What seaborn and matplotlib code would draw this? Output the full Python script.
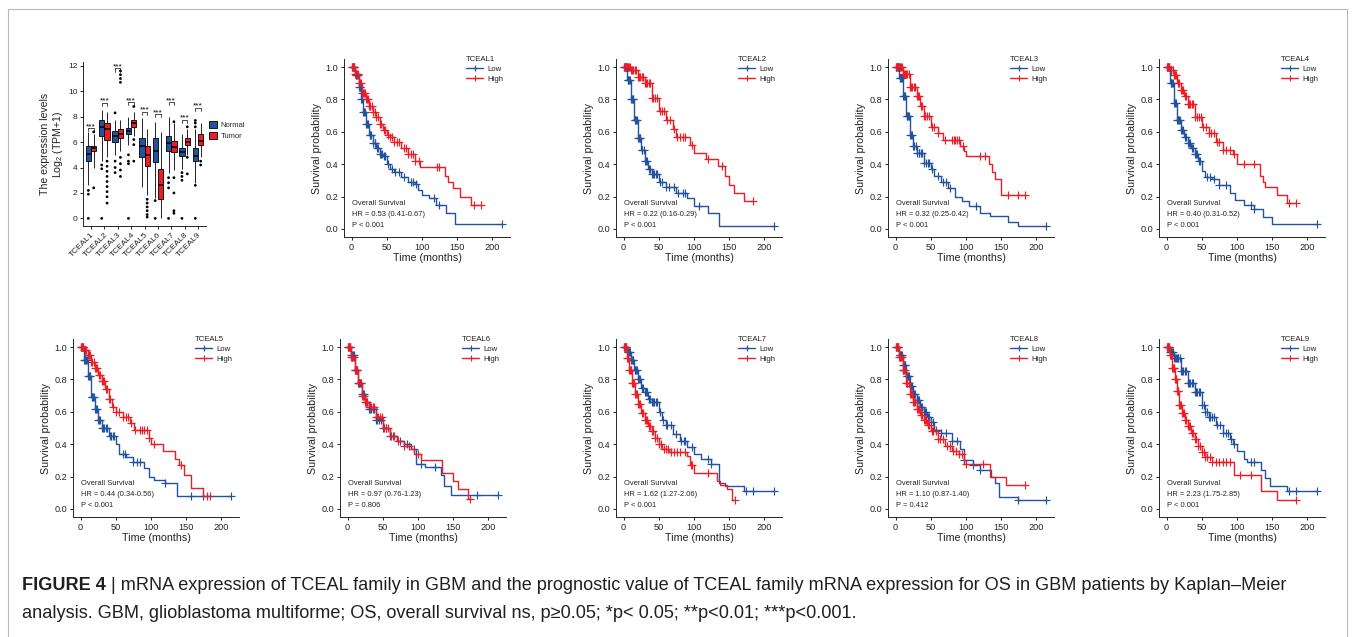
import numpy as np
import pandas as pd
import matplotlib
matplotlib.use("Agg")
import matplotlib.pyplot as plt
import seaborn as sns
from matplotlib.lines import Line2D
from matplotlib.patches import Patch
from matplotlib import font_manager

# ---------------- DATA ----------------
genes = ["TCEAL1", "TCEAL2", "TCEAL3", "TCEAL4", "TCEAL5", "TCEAL6", "TCEAL7", "TCEAL8", "TCEAL9"]
groups = ["Normal", "Tumor"]
# five-number summaries [low whisker, q1, median, q3, high whisker]
normal_stats = [[2.6, 4.5, 5.1, 5.7, 6.8], [4.5, 6.5, 7.2, 7.7, 8.5], [5.0, 6.0, 6.5, 6.9, 7.7],
                [5.8, 6.6, 6.9, 7.1, 8.0], [2.5, 4.8, 5.7, 6.3, 7.9], [1.6, 4.4, 5.3, 6.3, 7.6],
                [3.6, 5.3, 5.9, 6.5, 8.0], [3.9, 4.9, 5.2, 5.5, 6.6], [2.8, 4.5, 4.9, 5.5, 7.0]]
tumor_stats = [[4.0, 5.3, 5.5, 5.7, 6.6], [4.8, 6.2, 7.0, 7.5, 8.4], [5.3, 6.3, 6.6, 7.0, 7.7],
               [6.5, 7.2, 7.5, 7.7, 8.4], [1.8, 4.1, 5.0, 5.7, 7.0], [0.0, 1.5, 2.6, 3.9, 6.8],
               [3.8, 5.2, 5.6, 6.1, 7.5], [5.0, 5.8, 6.0, 6.3, 7.0], [4.8, 5.8, 6.1, 6.6, 7.5]]
normal_outliers = [[2.2, 1.9, 0.0], [4.2, 3.9, 0.0], [8.3, 4.5, 4.0, 3.6], [5.0, 4.5, 4.3, 0.0],
                   [], [1.4, 0.0], [3.2, 2.8, 2.4, 0.0], [3.6, 3.3, 3.0, 0.0], [2.6, 7.2, 7.5, 7.7, 0.0]]
tumor_outliers = [[2.4, 6.8], [4.5, 4.1, 3.7, 3.3, 2.9, 2.5, 2.1, 1.7, 1.2], [4.8, 4.3, 3.8, 3.3, 10.7, 11.0, 11.3, 11.6],
                  [6.2, 5.8, 4.5, 8.8], [1.5, 1.2, 0.9, 0.6, 0.3, 0.1], [], [3.2, 2.0, 0.6, 0.4, 7.6],
                  [3.5, 4.8, 7.2], [4.5, 4.2]]
sig_labels = ["***"] * 9
sig_heights = [7.1, 9.1, 11.8, 9.15, 8.4, 8.2, 9.15, 7.75, 8.7]

# Kaplan-Meier step curves (time, survival after that time) and censor times
tceal1_low_t = [0, 5, 10, 13, 16, 20, 25, 30, 35, 40, 45, 50, 55, 60, 70, 80, 90, 95, 100, 110, 120, 135, 147, 215]
tceal1_low_s = [1.0, 0.95, 0.88, 0.80, 0.72, 0.65, 0.58, 0.53, 0.50, 0.46, 0.45, 0.40, 0.37, 0.35, 0.32, 0.29, 0.28, 0.24, 0.21, 0.19, 0.15, 0.10, 0.03, 0.03]
tceal1_low_c = [1, 2, 3, 4, 6, 7, 8, 9, 11, 12, 12.5, 14, 15, 17, 18, 19, 21, 22, 24, 26, 27, 28, 31, 33, 34, 36, 38, 40, 42, 44, 46, 48, 52, 58, 62, 68, 75, 85, 88, 92, 118, 125, 215]
tceal1_high_t = [0, 5, 10, 15, 20, 25, 30, 35, 40, 45, 50, 55, 60, 70, 80, 90, 98, 133, 138, 145, 155, 170, 185]
tceal1_high_s = [1.0, 0.96, 0.90, 0.84, 0.80, 0.76, 0.72, 0.69, 0.65, 0.61, 0.58, 0.565, 0.54, 0.50, 0.46, 0.42, 0.38, 0.33, 0.29, 0.25, 0.20, 0.15, 0.15]
tceal1_high_c = [1, 2, 3, 4, 5.5, 6, 7, 8, 9, 11, 12, 13, 15, 16, 18, 19, 21, 22, 24, 25, 27, 29, 31, 33, 35, 38, 40, 42, 46, 48, 52, 55, 58, 60, 65, 68, 75, 78, 80, 85, 88, 90, 96, 122, 125, 175, 185]

tceal2_low_t = [0, 5, 10, 15, 20, 25, 30, 35, 40, 50, 60, 75, 90, 100, 120, 136, 215]
tceal2_low_s = [1.0, 0.92, 0.80, 0.67, 0.56, 0.49, 0.42, 0.37, 0.34, 0.29, 0.26, 0.22, 0.19, 0.14, 0.10, 0.02, 0.02]
tceal2_low_c = [1, 2, 3, 4, 6, 7, 8, 9, 11, 12, 13, 14, 16, 17, 18, 19, 21, 22, 23, 24, 26, 27, 29, 30, 32, 34, 36, 38, 40, 42, 44, 46, 48, 52, 55, 60, 65, 72, 78, 85, 88, 108, 215]
tceal2_high_t = [0, 10, 20, 30, 40, 50, 60, 70, 75, 95, 100, 118, 135, 145, 150, 158, 172, 185]
tceal2_high_s = [1.0, 0.98, 0.94, 0.90, 0.81, 0.73, 0.67, 0.62, 0.57, 0.52, 0.47, 0.435, 0.39, 0.33, 0.27, 0.22, 0.17, 0.17]
tceal2_high_c = [1, 2, 3, 4, 5, 6, 7, 8, 9, 11, 12, 14, 16, 18, 20, 22, 24, 26, 28, 30, 32, 34, 36, 38, 40, 42, 45, 48, 52, 55, 58, 62, 66, 72, 76, 80, 84, 88, 98, 120, 140, 185]

tceal3_low_t = [0, 5, 10, 15, 20, 25, 30, 40, 50, 55, 65, 75, 85, 95, 105, 120, 135, 160, 174, 215]
tceal3_low_s = [1.0, 0.93, 0.82, 0.70, 0.58, 0.51, 0.47, 0.41, 0.37, 0.33, 0.29, 0.25, 0.20, 0.17, 0.14, 0.10, 0.08, 0.045, 0.015, 0.015]
tceal3_low_c = [1, 2, 3, 4, 6, 7, 8, 9, 11, 12, 13, 14, 16, 17, 18, 19, 21, 22, 23, 25, 27, 29, 31, 33, 34, 36, 38, 41, 44, 46, 48, 52, 60, 68, 72, 78, 115, 215]
tceal3_high_t = [0, 10, 20, 30, 35, 40, 50, 60, 68, 92, 97, 101, 133, 138, 142, 150, 185]
tceal3_high_s = [1.0, 0.96, 0.88, 0.82, 0.76, 0.70, 0.63, 0.59, 0.55, 0.51, 0.48, 0.45, 0.40, 0.35, 0.31, 0.21, 0.21]
tceal3_high_c = [1, 2, 3, 4, 5, 6, 7, 8, 9, 11, 12, 14, 15, 17, 19, 21, 22, 24, 26, 28, 30, 32, 34, 36, 38, 40, 42, 45, 48, 52, 55, 60, 70, 80, 83, 85, 88, 91, 96, 120, 127, 160, 175, 185]

tceal4_low_t = [0, 5, 10, 15, 20, 25, 30, 35, 40, 45, 50, 55, 65, 75, 90, 98, 110, 125, 138, 150, 215]
tceal4_low_s = [1.0, 0.90, 0.78, 0.67, 0.61, 0.57, 0.53, 0.50, 0.46, 0.42, 0.36, 0.32, 0.31, 0.27, 0.22, 0.18, 0.15, 0.12, 0.075, 0.03, 0.03]
tceal4_low_c = [1, 2, 3, 4, 6, 7, 8, 9, 11, 12, 13, 15, 16, 18, 19, 21, 22, 24, 26, 28, 30, 32, 34, 36, 38, 40, 42, 44, 46, 48, 58, 62, 68, 75, 85, 120, 125, 215]
tceal4_high_t = [0, 5, 10, 15, 20, 25, 30, 40, 50, 60, 70, 80, 95, 100, 133, 137, 140, 157, 172, 185]
tceal4_high_s = [1.0, 0.98, 0.95, 0.90, 0.86, 0.82, 0.77, 0.69, 0.63, 0.59, 0.54, 0.49, 0.46, 0.40, 0.33, 0.29, 0.26, 0.21, 0.16, 0.16]
tceal4_high_c = [1, 2, 3, 4, 5, 6, 7, 9, 11, 12, 14, 16, 18, 20, 22, 24, 26, 28, 30, 32, 34, 36, 38, 40, 43, 46, 49, 52, 56, 60, 64, 68, 72, 75, 80, 85, 90, 96, 110, 125, 175, 185]

tceal5_low_t = [0, 5, 10, 15, 20, 25, 30, 40, 50, 55, 65, 75, 90, 97, 105, 120, 137, 215]
tceal5_low_s = [1.0, 0.92, 0.82, 0.69, 0.62, 0.55, 0.50, 0.45, 0.40, 0.34, 0.32, 0.29, 0.25, 0.20, 0.18, 0.16, 0.08, 0.08]
tceal5_low_c = [1, 2, 3, 5, 6, 7, 8, 9, 11, 12, 13, 14, 16, 17, 18, 19, 21, 22, 23, 25, 27, 28, 30, 32, 34, 36, 38, 42, 44, 46, 48, 60, 64, 75, 80, 84, 120, 158, 175, 215]
tceal5_high_t = [0, 5, 10, 15, 20, 25, 30, 35, 40, 45, 50, 60, 70, 76, 97, 100, 117, 135, 140, 148, 158, 175, 185]
tceal5_high_s = [1.0, 0.98, 0.95, 0.91, 0.87, 0.83, 0.79, 0.74, 0.68, 0.63, 0.60, 0.57, 0.53, 0.49, 0.44, 0.40, 0.36, 0.31, 0.27, 0.21, 0.13, 0.08, 0.08]
tceal5_high_c = [1, 2, 3, 4, 5, 6, 7, 8, 10, 12, 14, 15, 17, 19, 21, 22, 24, 26, 28, 30, 32, 34, 36, 38, 40, 42, 46, 50, 55, 60, 65, 68, 72, 78, 84, 88, 91, 94, 97, 104, 143, 180, 185]

tceal6_low_t = [0, 5, 10, 15, 20, 25, 30, 40, 50, 60, 70, 80, 90, 97, 110, 133, 138, 147, 215]
tceal6_low_s = [1.0, 0.95, 0.86, 0.78, 0.71, 0.66, 0.62, 0.55, 0.50, 0.45, 0.42, 0.40, 0.37, 0.28, 0.26, 0.21, 0.14, 0.085, 0.085]
tceal6_low_c = [1, 2, 3, 4, 5, 6, 8, 9, 10, 12, 13, 15, 16, 18, 19, 21, 22, 24, 26, 28, 30, 32, 34, 36, 38, 40, 42, 45, 48, 50, 55, 60, 65, 75, 85, 95, 105, 125, 185, 215]
tceal6_high_t = [0, 5, 10, 15, 20, 25, 30, 40, 50, 60, 70, 80, 90, 95, 105, 135, 150, 158, 172, 176]
tceal6_high_s = [1.0, 0.94, 0.86, 0.78, 0.70, 0.66, 0.63, 0.57, 0.50, 0.45, 0.42, 0.39, 0.37, 0.34, 0.30, 0.22, 0.17, 0.12, 0.06, 0.06]
tceal6_high_c = [1, 2, 3, 4, 5, 6, 7, 8, 9, 11, 12, 13, 14, 16, 17, 19, 20, 22, 23, 25, 26, 28, 30, 32, 34, 36, 38, 40, 42, 44, 46, 49, 52, 55, 58, 62, 66, 72, 80, 88, 100, 175]

tceal7_low_t = [0, 5, 10, 15, 20, 25, 30, 35, 40, 50, 55, 60, 70, 80, 90, 100, 110, 125, 136, 145, 172, 215]
tceal7_low_s = [1.0, 0.97, 0.92, 0.86, 0.80, 0.75, 0.72, 0.68, 0.66, 0.60, 0.55, 0.52, 0.46, 0.42, 0.38, 0.34, 0.31, 0.28, 0.16, 0.14, 0.11, 0.11]
tceal7_low_c = [1, 2, 3, 4, 6, 7, 8, 9, 11, 12, 13, 14, 16, 17, 18, 19, 21, 22, 24, 26, 28, 30, 32, 34, 36, 38, 40, 42, 44, 46, 48, 52, 56, 60, 62, 68, 75, 82, 86, 88, 98, 120, 125, 175, 185, 215]
tceal7_high_t = [0, 5, 8, 12, 16, 20, 25, 30, 35, 40, 45, 50, 55, 65, 90, 95, 100, 133, 138, 148, 155, 159]
tceal7_high_s = [1.0, 0.93, 0.86, 0.78, 0.71, 0.65, 0.59, 0.55, 0.51, 0.48, 0.44, 0.40, 0.37, 0.35, 0.33, 0.27, 0.22, 0.17, 0.15, 0.12, 0.055, 0.055]
tceal7_high_c = [1, 2, 3, 4, 5, 6, 7, 8, 9, 10, 11, 12, 13, 14, 15, 17, 18, 19, 20, 22, 24, 26, 28, 30, 32, 34, 36, 38, 40, 42, 45, 48, 51, 54, 58, 61, 64, 68, 72, 76, 80, 88, 96, 98, 120, 159]

tceal8_low_t = [0, 5, 10, 15, 20, 25, 30, 35, 40, 45, 50, 55, 65, 80, 92, 98, 110, 120, 136, 142, 148, 175, 215]
tceal8_low_s = [1.0, 0.95, 0.89, 0.82, 0.76, 0.71, 0.67, 0.63, 0.60, 0.57, 0.54, 0.49, 0.47, 0.42, 0.37, 0.30, 0.27, 0.24, 0.20, 0.16, 0.075, 0.055, 0.055]
tceal8_low_c = [1, 2, 3, 4, 6, 7, 8, 9, 11, 12, 13, 14, 16, 17, 18, 19, 21, 22, 24, 26, 28, 30, 32, 34, 36, 38, 40, 42, 44, 46, 48, 50, 54, 58, 65, 72, 80, 88, 98, 110, 120, 175, 215]
tceal8_high_t = [0, 5, 10, 15, 20, 25, 30, 35, 40, 45, 50, 60, 70, 80, 90, 98, 135, 157, 185]
tceal8_high_s = [1.0, 0.94, 0.86, 0.78, 0.71, 0.66, 0.62, 0.58, 0.55, 0.52, 0.48, 0.43, 0.39, 0.36, 0.34, 0.28, 0.20, 0.15, 0.15]
tceal8_high_c = [1, 2, 3, 4, 5, 6, 7, 8, 9, 10, 11, 12, 13, 15, 16, 17, 19, 20, 22, 23, 25, 27, 28, 30, 32, 34, 36, 38, 40, 42, 44, 46, 48, 52, 54, 58, 60, 64, 68, 74, 78, 82, 86, 90, 95, 100, 125, 185]

tceal9_low_t = [0, 5, 10, 20, 30, 40, 50, 55, 60, 70, 80, 90, 95, 100, 110, 115, 135, 140, 147, 172, 215]
tceal9_low_s = [1.0, 0.97, 0.93, 0.85, 0.78, 0.72, 0.64, 0.60, 0.57, 0.52, 0.47, 0.43, 0.40, 0.36, 0.31, 0.29, 0.24, 0.19, 0.14, 0.11, 0.11]
tceal9_low_c = [1, 2, 3, 5, 6, 7, 8, 9, 11, 12, 13, 15, 16, 17, 19, 20, 22, 24, 26, 28, 30, 32, 34, 36, 38, 40, 42, 44, 46, 48, 50, 53, 55, 58, 60, 62, 65, 68, 72, 76, 80, 84, 88, 92, 96, 120, 125, 175, 185, 215]
tceal9_high_t = [0, 5, 8, 12, 15, 18, 22, 26, 30, 35, 40, 45, 50, 55, 65, 96, 135, 157, 185]
tceal9_high_s = [1.0, 0.95, 0.87, 0.80, 0.73, 0.64, 0.59, 0.55, 0.51, 0.47, 0.43, 0.39, 0.35, 0.32, 0.29, 0.21, 0.11, 0.055, 0.055]
tceal9_high_c = [1, 2, 3, 4, 5, 6, 7, 8, 9, 10, 11, 12, 13, 14, 15, 16, 17, 18, 19, 20, 22, 23, 25, 26, 28, 30, 32, 34, 36, 38, 40, 42, 45, 48, 50, 53, 55, 58, 62, 65, 70, 75, 80, 85, 90, 105, 120, 185]

hr_texts = ["HR = 0.53 (0.41-0.67)", "HR = 0.22 (0.16-0.29)", "HR = 0.32 (0.25-0.42)",
            "HR = 0.40 (0.31-0.52)", "HR = 0.44 (0.34-0.56)", "HR = 0.97 (0.76-1.23)",
            "HR = 1.62 (1.27-2.06)", "HR = 1.10 (0.87-1.40)", "HR = 2.23 (1.75-2.85)"]
p_texts = ["P < 0.001", "P < 0.001", "P < 0.001", "P < 0.001", "P < 0.001",
           "P = 0.806", "P < 0.001", "P = 0.412", "P < 0.001"]

caption_bold = "FIGURE 4"
caption_line1 = " | mRNA expression of TCEAL family in GBM and the prognostic value of TCEAL family mRNA expression for OS in GBM patients by Kaplan\u2013Meier"
caption_line2 = "analysis. GBM, glioblastoma multiforme; OS, overall survival ns, p\u22650.05; *p< 0.05; **p<0.01; ***p<0.001."

# ---------------- STYLE ----------------
sns.set_theme(style="ticks")
plt.rcParams["font.family"] = ["Liberation Sans", "DejaVu Sans"]
plt.rcParams["axes.linewidth"] = 0.7
plt.rcParams["xtick.major.width"] = 0.7
plt.rcParams["ytick.major.width"] = 0.7
plt.rcParams["xtick.major.size"] = 2.5
plt.rcParams["ytick.major.size"] = 2.5
plt.rcParams["mathtext.fontset"] = "custom"
plt.rcParams["mathtext.rm"] = "Liberation Sans"
plt.rcParams["mathtext.it"] = "Liberation Sans:italic"

BLUE = "#23539F"
RED = "#EE1C24"
TXT = "#222222"
W, H = 1355, 637
fig = plt.figure(figsize=(W / 100, H / 100), dpi=100)
fig.patch.set_facecolor("white")


def px_axes(left, top, right, bottom):
    return fig.add_axes([left / W, 1 - bottom / H, (right - left) / W, (bottom - top) / H])


# ---------------- BOX PLOT ----------------
rows = []
for g, ns, ts in zip(genes, normal_stats, tumor_stats):
    for v in ns:
        rows.append((g, "Normal", v))
    for v in ts:
        rows.append((g, "Tumor", v))
box_df = pd.DataFrame(rows, columns=["gene", "group", "value"])
orows = []
for g, no, to in zip(genes, normal_outliers, tumor_outliers):
    for v in no:
        orows.append((g, "Normal", v))
    for v in to:
        orows.append((g, "Tumor", v))
out_df = pd.DataFrame(orows, columns=["gene", "group", "value"])

axb = px_axes(83, 62, 206, 226)
sns.boxplot(data=box_df, x="gene", y="value", hue="group", order=genes, hue_order=groups,
            palette={"Normal": BLUE, "Tumor": RED}, saturation=1, whis=(0, 100), width=0.8,
            linewidth=0.6, linecolor="black", showcaps=False,
            medianprops=dict(color="black", linewidth=1.1), legend=False, ax=axb)
sns.stripplot(data=out_df, x="gene", y="value", hue="group", order=genes, hue_order=groups,
              dodge=True, jitter=False, palette={"Normal": "black", "Tumor": "black"},
              size=2.0, legend=False, ax=axb)
for i, (h, lab) in enumerate(zip(sig_heights, sig_labels)):
    axb.plot([i - 0.2, i - 0.2, i + 0.2, i + 0.2], [h - 0.25, h, h, h - 0.25], color="black", lw=0.5)
    axb.text(i, h - 0.15, lab, ha="center", va="bottom", fontsize=6, color="black")
axb.set_xlim(-0.6, 8.6)
axb.set_ylim(-0.6, 12.3)
axb.set_yticks([0, 2, 4, 6, 8, 10, 12])
axb.tick_params(axis="y", labelsize=6, pad=1.5, colors=TXT)
axb.tick_params(axis="x", labelsize=6, pad=1, colors=TXT)
axb.set_xticks(range(len(genes)))
axb.set_xticklabels(genes, rotation=45, ha="right", rotation_mode="anchor")
axb.set_xlabel("")
axb.set_ylabel("The expression levels\nLog$_2$ (TPM+1)", fontsize=7.6, labelpad=2, linespacing=1.1, color=TXT)
sns.despine(ax=axb)
leg_handles = [Patch(facecolor=BLUE, edgecolor="black", linewidth=0.6),
               Patch(facecolor=RED, edgecolor="black", linewidth=0.6)]
axb.legend(leg_handles, groups, loc="center left", bbox_to_anchor=(0.97, 0.58), frameon=False,
           fontsize=5.5, handlelength=1.0, handleheight=1.0, handletextpad=0.5, labelspacing=0.4)

# ---------------- KM PANELS ----------------
km_low = [(tceal1_low_t, tceal1_low_s, tceal1_low_c), (tceal2_low_t, tceal2_low_s, tceal2_low_c),
          (tceal3_low_t, tceal3_low_s, tceal3_low_c), (tceal4_low_t, tceal4_low_s, tceal4_low_c),
          (tceal5_low_t, tceal5_low_s, tceal5_low_c), (tceal6_low_t, tceal6_low_s, tceal6_low_c),
          (tceal7_low_t, tceal7_low_s, tceal7_low_c), (tceal8_low_t, tceal8_low_s, tceal8_low_c),
          (tceal9_low_t, tceal9_low_s, tceal9_low_c)]
km_high = [(tceal1_high_t, tceal1_high_s, tceal1_high_c), (tceal2_high_t, tceal2_high_s, tceal2_high_c),
           (tceal3_high_t, tceal3_high_s, tceal3_high_c), (tceal4_high_t, tceal4_high_s, tceal4_high_c),
           (tceal5_high_t, tceal5_high_s, tceal5_high_c), (tceal6_high_t, tceal6_high_s, tceal6_high_c),
           (tceal7_high_t, tceal7_high_s, tceal7_high_c), (tceal8_high_t, tceal8_high_s, tceal8_high_c),
           (tceal9_high_t, tceal9_high_s, tceal9_high_c)]

km_lefts = [344, 616, 888, 1159, 73, 340, 616, 888, 1159]
km_tops = [59, 59, 59, 59, 339, 339, 339, 339, 339]
KM_W, KM_H = 166, 178

for k, gene in enumerate(genes):
    L, T = km_lefts[k], km_tops[k]
    ax = px_axes(L, T, L + KM_W, T + KM_H)
    for (tt, ss, cc), col in ((km_low[k], BLUE), (km_high[k], RED)):
        tt = np.asarray(tt, float)
        ss = np.asarray(ss, float)
        sns.lineplot(x=tt, y=ss, drawstyle="steps-post", color=col, lw=1.0,
                     estimator=None, sort=False, ax=ax)
        cc = np.asarray(cc, float)
        idx = np.searchsorted(tt, cc, side="right") - 1
        sns.scatterplot(x=cc, y=ss[idx], marker="+", color=col, s=28, linewidth=0.85, ax=ax)
    ax.set_xlim(-10.75, 225.75)
    ax.set_ylim(-0.05, 1.05)
    ax.set_xticks([0, 50, 100, 150, 200])
    ax.set_yticks([0.0, 0.2, 0.4, 0.6, 0.8, 1.0])
    ax.set_yticklabels(["0.0", "0.2", "0.4", "0.6", "0.8", "1.0"])
    ax.tick_params(labelsize=6.6, pad=1.5, colors=TXT)
    ax.set_xlabel("Time (months)", fontsize=7.7, labelpad=1, color=TXT)
    ax.set_ylabel("Survival probability", fontsize=7.7, labelpad=3, color=TXT)
    sns.despine(ax=ax)
    ax.text(1, 0.16, "Overall Survival", fontsize=5.4, ha="left", va="center", color=TXT)
    ax.text(1, 0.09, hr_texts[k], fontsize=5.4, ha="left", va="center", color=TXT)
    ax.text(1, 0.02, p_texts[k], fontsize=5.4, ha="left", va="center", color=TXT)
    hnd = [Line2D([], [], color=BLUE, lw=1.0, marker="+", ms=5, mew=0.8),
           Line2D([], [], color=RED, lw=1.0, marker="+", ms=5, mew=0.8)]
    lg = ax.legend(hnd, ["Low", "High"], title=gene, loc="upper left", bbox_to_anchor=(0.73, 1.02),
                   frameon=False, fontsize=5.6, title_fontsize=5.6, handlelength=2.2,
                   handletextpad=0.5, labelspacing=0.3, borderaxespad=0, borderpad=0.1)
    lg._legend_box.align = "left"
    for t in lg.get_texts():
        t.set_color(TXT)
    lg.get_title().set_color(TXT)

# ---------------- FRAME & CAPTION ----------------
frame_col = "#B9B9B9"
fig.add_artist(Line2D([8 / W, 1347 / W], [1 - 9 / H, 1 - 9 / H], transform=fig.transFigure, color=frame_col, lw=0.8))
fig.add_artist(Line2D([8 / W, 8 / W], [1 - 9 / H, 0], transform=fig.transFigure, color=frame_col, lw=0.8))
fig.add_artist(Line2D([1347 / W, 1347 / W], [1 - 9 / H, 0], transform=fig.transFigure, color=frame_col, lw=0.8))

names = {f.name for f in font_manager.fontManager.ttflist}
if "Liberation Sans Narrow" in names:
    cap_family = ["Liberation Sans Narrow", "DejaVu Sans"]
else:
    cap_family = ["Liberation Sans", "DejaVu Sans"]
fs = 12.0
x0 = 22 / W
t_b = fig.text(x0, 1 - 585 / H, caption_bold, fontsize=fs, fontweight="bold", va="center", ha="left",
               color="#231F20", family=cap_family)
fig.canvas.draw()
r = fig.canvas.get_renderer()
bw = t_b.get_window_extent(r).width
t_1 = fig.text(x0 + bw / W, 1 - 585 / H, caption_line1, fontsize=fs, va="center", ha="left",
               color="#231F20", family=cap_family)
fig.canvas.draw()
total = bw + t_1.get_window_extent(r).width
scale = (1290 - 22) / total
fs2 = min(fs * scale, 14.5)
t_b.set_fontsize(fs2)
t_1.set_fontsize(fs2)
fig.canvas.draw()
bw = t_b.get_window_extent(r).width
t_1.set_x(x0 + bw / W)
fig.text(x0, 1 - 613 / H, caption_line2, fontsize=fs2, va="center", ha="left",
         color="#231F20", family=cap_family)

fig.savefig("out.png", dpi=100, facecolor="white")
